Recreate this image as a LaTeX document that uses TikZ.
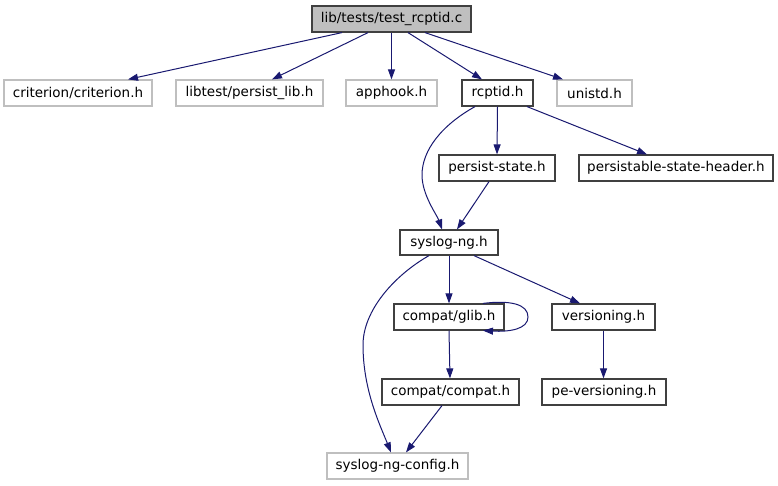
\documentclass[tikz,border=0pt]{standalone}
\usepackage{fontspec}
\setmainfont{DejaVu Sans}
\usetikzlibrary{arrows.meta}
\definecolor{edgec}{HTML}{191970}
\definecolor{grayb}{HTML}{BFBFBF}
\definecolor{darkb}{HTML}{404040}
\begin{document}
\begin{tikzpicture}[x=1pt,y=-1pt,
  box/.style={draw=darkb,line width=1.2pt,rectangle,minimum height=26pt,inner sep=0pt,font=\fontsize{13.5}{14}\selectfont,text=black},
  gbox/.style={box,draw=grayb},
  topbox/.style={box,fill=grayb},
  edge/.style={draw=edgec,line width=1pt,-{Triangle[length=10pt,width=7pt]}}]
\useasboundingbox (0,0) rectangle (778,485);
\node[topbox,minimum width=159pt] (top) at (391.5,19) {lib/tests/test\_rcptid.c};
\node[gbox,minimum width=148pt] (crit) at (78,93) {criterion/criterion.h};
\node[gbox,minimum width=147pt] (plib) at (249.5,93) {libtest/persist\_lib.h};
\node[gbox,minimum width=91pt] (app) at (391.5,93) {apphook.h};
\node[box,minimum width=71pt] (rcp) at (497.5,93) {rcptid.h};
\node[gbox,minimum width=75pt] (uni) at (594.5,93) {unistd.h};
\node[box,minimum width=116pt] (pst) at (497,168) {persist-state.h};
\node[box,minimum width=194pt] (psh) at (676,168) {persistable-state-header.h};
\node[box,minimum width=98pt,minimum height=25pt] (sng) at (449,242.5) {syslog-ng.h};
\node[box,minimum width=110pt] (glib) at (449,317) {compat/glib.h};
\node[box,minimum width=103pt] (ver) at (603.5,317) {versioning.h};
\node[box,minimum width=137pt] (cmp) at (450.5,392) {compat/compat.h};
\node[box,minimum width=124pt] (pev) at (604,392) {pe-versioning.h};
\node[gbox,minimum width=141pt] (cfg) at (397.5,466) {syslog-ng-config.h};

\draw[edge] ([xshift=-49.5pt]top.south) -- ([xshift=50pt]crit.north);
\draw[edge] ([xshift=-23.5pt]top.south) -- ([xshift=22.5pt]plib.north);
\draw[edge] (top.south) -- (app.north);
\draw[edge] ([xshift=16.5pt]top.south) -- ([xshift=-15.5pt]rcp.north);
\draw[edge] ([xshift=33.5pt]top.south) -- ([xshift=-31.5pt]uni.north);

\draw[edge] ([xshift=-22.5pt]rcp.south) .. controls (442,125) and (422,150) .. (422,175) .. controls (422,195) and (437,215) .. ([xshift=-7pt]sng.north);
\draw[edge] (rcp.south) -- (pst.north);
\draw[edge] ([xshift=29.5pt]rcp.south) -- ([xshift=-29pt]psh.north);
\draw[edge] ([xshift=-8pt]pst.south) -- ([xshift=8pt]sng.north);

\draw[edge] ([xshift=-20pt]sng.south) .. controls (395,275) and (363,310) .. (363,345) .. controls (363,390) and (380,425) .. ([xshift=-6.5pt]cfg.north);
\draw[edge] (sng.south) -- (glib.north);
\draw[edge] ([xshift=25pt]sng.south) -- ([xshift=-23.5pt]ver.north);
\draw[edge] ([xshift=34pt]glib.north) .. controls (510,300) and (528,304) .. (528,317) .. controls (528,329) and (510,332) .. ([xshift=34pt]glib.south);
\draw[edge] (glib.south) -- ([xshift=-0.5pt]cmp.north);
\draw[edge] (ver.south) -- ([xshift=-0.5pt]pev.north);
\draw[edge] ([xshift=-8.5pt]cmp.south) -- ([xshift=8.5pt]cfg.north);
\end{tikzpicture}
\end{document}
